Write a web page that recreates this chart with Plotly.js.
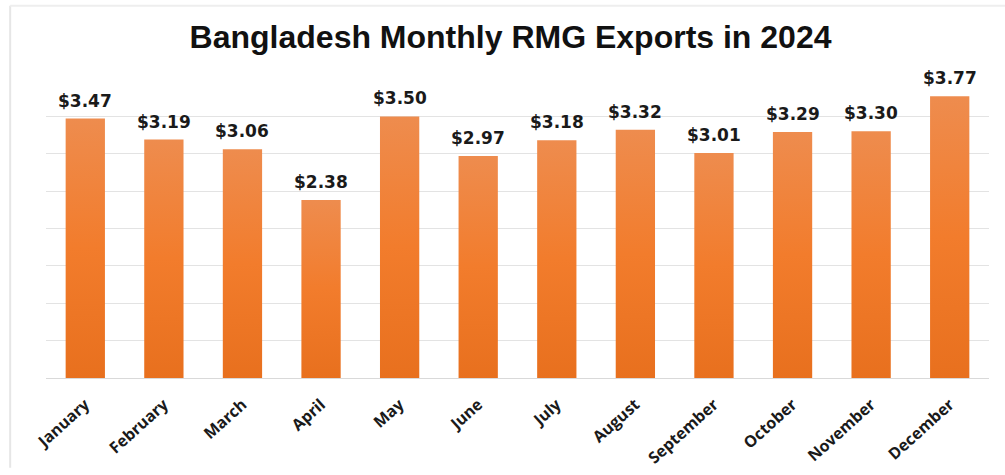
<!DOCTYPE html>
<html>
<head>
<meta charset="utf-8">
<script src="https://cdn.plot.ly/plotly-3.0.1.min.js"></script>
<style>html,body{margin:0;padding:0;background:#fff;}#chart{width:1005px;height:475px;}</style>
</head>
<body>
<div id="chart"></div>
<script>
const months = ["January","February","March","April","May","June","July","August","September","October","November","December"];
const exportsBn = [3.47, 3.19, 3.06, 2.38, 3.50, 2.97, 3.18, 3.32, 3.01, 3.29, 3.30, 3.77];
const valueLabels = exportsBn.map(v => "$" + v.toFixed(2));
const chartTitle = "Bangladesh Monthly RMG Exports in 2024";

const trace = {
  type: "bar",
  x: months,
  y: exportsBn,
  marker: {color: "#ef7b2e", line: {width: 0}},
  hoverinfo: "x+y"
};

const labelAnnotations = months.map((m, i) => ({
  x: m, y: exportsBn[i], xref: "x", yref: "y",
  text: "<b>" + valueLabels[i] + "</b>",
  showarrow: false,
  yanchor: "bottom",
  yshift: 6,
  font: {family: "DejaVu Sans", size: 17, color: "#1a1a1a"}
}));

const layout = {
  width: 1005, height: 475,
  margin: {l: 46, r: 16, t: 79, b: 97},
  paper_bgcolor: "#ffffff",
  plot_bgcolor: "#ffffff",
  bargap: 0.5,
  showlegend: false,
  title: {
    text: "<b>" + chartTitle + "</b>",
    font: {family: "Liberation Sans, Arial", size: 32, color: "#111111"},
    x: 0.508, xanchor: "center",
    y: 0.922, yanchor: "middle", yref: "container"
  },
  xaxis: {
    type: "category",
    tickangle: -42,
    tickfont: {family: "Open Sans", size: 16, color: "#1a1a1a", weight: "bold"},
    showline: false, ticks: "outside", ticklen: 10, tickcolor: "rgba(0,0,0,0)", showgrid: false
  },
  yaxis: {
    range: [0, 4],
    dtick: 0.5,
    showticklabels: false,
    gridcolor: "#e3e3e3",
    gridwidth: 1,
    zeroline: true,
    zerolinecolor: "#d9d9d9",
    zerolinewidth: 1,
    ticks: ""
  },
  annotations: labelAnnotations,
  shapes: [
    {type: "line", xref: "paper", yref: "paper", x0: -0.038, x1: -0.038, y0: 1.245, y1: -0.3, line: {color: "#e6e6e6", width: 2}},
    {type: "line", xref: "paper", yref: "paper", x0: -0.038, x1: 1.02, y0: 1.245, y1: 1.245, line: {color: "#eeeeee", width: 2}}
  ]
};

function addGradient(gd) {
  const svg = gd.querySelector("svg.main-svg");
  if (!svg) return;
  let defs = svg.querySelector("defs");
  if (!defs) { defs = document.createElementNS("http://www.w3.org/2000/svg", "defs"); svg.insertBefore(defs, svg.firstChild); }
  if (!svg.querySelector("#barGrad")) {
    const g = document.createElementNS("http://www.w3.org/2000/svg", "linearGradient");
    g.setAttribute("id", "barGrad");
    g.setAttribute("x1", "0"); g.setAttribute("y1", "0"); g.setAttribute("x2", "0"); g.setAttribute("y2", "1");
    [["0", "#ee8c4e"], ["0.5", "#f27c2c"], ["1", "#e8701e"]].forEach(([o, c]) => {
      const s = document.createElementNS("http://www.w3.org/2000/svg", "stop");
      s.setAttribute("offset", o); s.setAttribute("stop-color", c);
      g.appendChild(s);
    });
    defs.appendChild(g);
  }
  gd.querySelectorAll(".bars .point path").forEach(p => {
    p.style.fill = "url(#barGrad)";
  });
}

Plotly.newPlot("chart", [trace], layout, {displayModeBar: false, staticPlot: true}).then(gd => {
  addGradient(gd);
  gd.on("plotly_afterplot", () => addGradient(gd));
});
</script>
</body>
</html>
